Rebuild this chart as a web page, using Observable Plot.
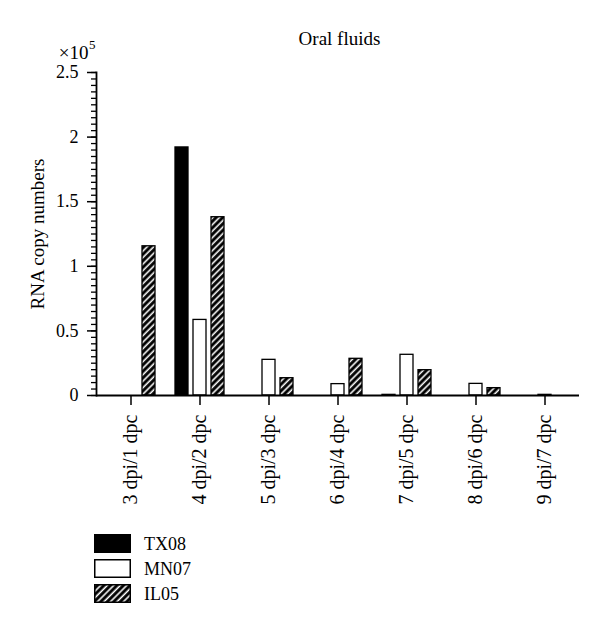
<!DOCTYPE html>
<html>
<head>
<meta charset="utf-8">
<script src="https://cdn.jsdelivr.net/npm/d3@7"></script>
<script src="https://cdn.jsdelivr.net/npm/@observablehq/plot@0.6"></script>
<style>
  html, body { margin: 0; padding: 0; background: #fff; }
  #wrap { position: relative; width: 600px; height: 622px; font-family: "Liberation Serif", serif; }
  #legend { position: absolute; left: 94px; top: 531px; font-size: 18px; color: #000; }
  .row { display: flex; align-items: center; height: 25px; }
  .row svg { display: block; }
  .row span { margin-left: 13px; line-height: 18px; }
</style>
</head>
<body>
<div id="wrap"><div id="chart"></div><div id="legend"></div></div>
<script>
const categories = ["3 dpi/1 dpc", "4 dpi/2 dpc", "5 dpi/3 dpc", "6 dpi/4 dpc", "7 dpi/5 dpc", "8 dpi/6 dpc", "9 dpi/7 dpc"];
const series = ["TX08", "MN07", "IL05"];
// RNA copy numbers, in units of 10^5
const tx08 = [0, 1.92, 0, 0, 0.005, 0, 0];
const mn07 = [0, 0.585, 0.276, 0.088, 0.315, 0.09, 0.005];
const il05 = [1.155, 1.38, 0.134, 0.284, 0.196, 0.057, 0];
const yTicks = [0, 0.5, 1, 1.5, 2, 2.5];
const fills = ["#000", "#fff", "url(#hatch)"];

const seriesValues = [tx08, mn07, il05];
const data = [];
categories.forEach((c, i) => series.forEach((s, j) => data.push({cat: c, series: s, value: seriesValues[j][i]})));

const F = "Liberation Serif";

const chart = Plot.plot({
  width: 600,
  height: 510,
  marginLeft: 94,
  marginRight: 20,
  marginTop: 72,
  marginBottom: 115,
  style: {fontFamily: F, fontSize: "18px", color: "#000", background: "#fff"},
  facet: {data, x: "cat"},
  fx: {domain: categories, paddingInner: 0, paddingOuter: 0, label: null},
  x: {domain: series, paddingInner: 0.3, paddingOuter: 0.514, axis: null},
  y: {domain: [0, 2.5]},
  color: {domain: series, range: fills},
  marks: [
    Plot.barY(data, {filter: d => d.value > 0, x: "series", y: "value", fill: "series", stroke: "#000", strokeWidth: 1.3}),
    Plot.ruleY([0], {stroke: "#000", strokeWidth: 1.8}),
    Plot.frame({anchor: "left", facetAnchor: "left", stroke: "#000", strokeWidth: 1.8}),
    Plot.axisY({ticks: 50, tickSize: 5, tickFormat: () => "", strokeWidth: 1.3, label: null}),
    Plot.axisY({ticks: yTicks, tickSize: 9, tickPadding: 9, strokeWidth: 1.5, fontSize: 18, label: null, tickFormat: d => String(d)}),
    Plot.axisFx({anchor: "bottom", tickRotate: -90, tickSize: 10, tickPadding: 9, strokeWidth: 1.5, fontSize: 20, label: null}),
    Plot.text(["Oral fluids"], {frameAnchor: "top-left", facetAnchor: "left", dx: 243, dy: -41, textAnchor: "middle", fontSize: 19}),
    Plot.text(["×10"], {frameAnchor: "top-left", facetAnchor: "left", dx: -8, dy: -27, textAnchor: "end", fontSize: 19}),
    Plot.text(["5"], {frameAnchor: "top-left", facetAnchor: "left", dx: -7.5, dy: -33, textAnchor: "start", fontSize: 13}),
    Plot.text(["RNA copy numbers"], {frameAnchor: "left", facetAnchor: "left", dx: -59, rotate: -90, textAnchor: "middle", fontSize: 19})
  ]
});

const defs = d3.select(chart).insert("defs", ":first-child");
const pat = defs.append("pattern").attr("id", "hatch").attr("patternUnits", "userSpaceOnUse")
  .attr("width", 4.6).attr("height", 4.6).attr("patternTransform", "rotate(45)");
pat.append("rect").attr("width", 4.6).attr("height", 4.6).attr("fill", "#000");
pat.append("line").attr("x1", 1.2).attr("y1", 0).attr("x2", 1.2).attr("y2", 4.6).attr("stroke", "#fff").attr("stroke-width", 1.6);

document.getElementById("chart").appendChild(chart);

const legend = d3.select("#legend");
series.forEach((s, j) => {
  const row = legend.append("div").attr("class", "row");
  const sv = row.append("svg").attr("width", 37).attr("height", 19);
  sv.append("rect").attr("x", 0.75).attr("y", 0.75).attr("width", 35.5).attr("height", 17.5)
    .attr("fill", fills[j]).attr("stroke", "#000").attr("stroke-width", 1.5);
  row.append("span").text(s);
});
</script>
</body>
</html>
